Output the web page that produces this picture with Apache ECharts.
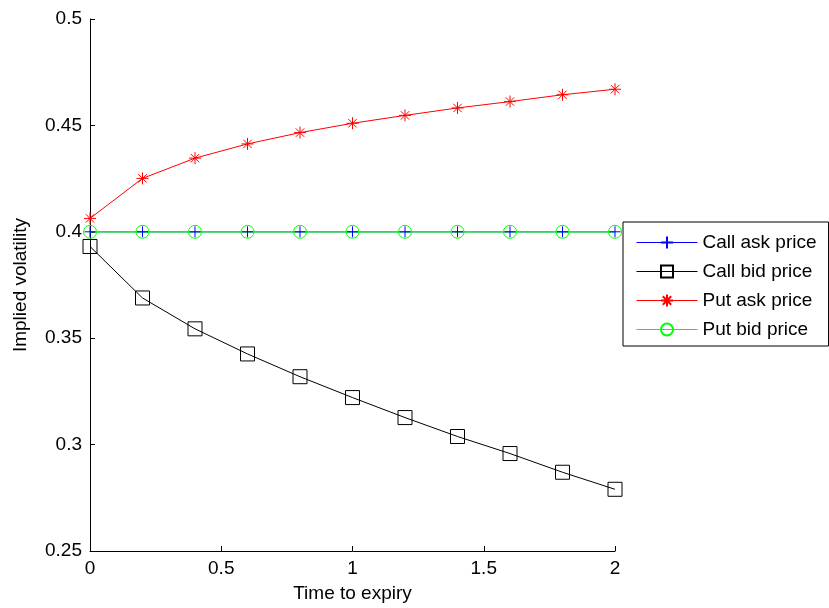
<!DOCTYPE html>
<html>
<head>
<meta charset="utf-8">
<script src="https://cdn.jsdelivr.net/npm/echarts@6/dist/echarts.min.js"></script>
<style>html,body{margin:0;padding:0;background:#fff;}#c{width:829px;height:608px;}</style>
</head>
<body>
<div id="c"></div>
<script>
const times = [0, 0.2, 0.4, 0.6, 0.8, 1.0, 1.2, 1.4, 1.6, 1.8, 2.0];
const callAsk = [0.4, 0.4, 0.4, 0.4, 0.4, 0.4, 0.4, 0.4, 0.4, 0.4, 0.4];
const callBid = [0.3931, 0.3689, 0.3544, 0.3426, 0.3319, 0.3221, 0.3127, 0.3038, 0.2958, 0.2870, 0.2790];
const putAsk = [0.4063, 0.4251, 0.4346, 0.4413, 0.4466, 0.4510, 0.4547, 0.4582, 0.4612, 0.4644, 0.4670];
const putBid = [0.4, 0.4, 0.4, 0.4, 0.4, 0.4, 0.4, 0.4, 0.4, 0.4, 0.4];
const seriesNames = ['Call ask price', 'Call bid price', 'Put ask price', 'Put bid price'];
const xTicks = [0, 0.5, 1, 1.5, 2];
const yTicks = [0.25, 0.3, 0.35, 0.4, 0.45, 0.5];

const pair = arr => arr.map((v, i) => [times[i], v]);
const plusPath = 'path://M5 0L5 10M0 5L10 5';
const starPath = 'path://M5 0L5 10M0 5L10 5M1.5 1.5L8.5 8.5M8.5 1.5L1.5 8.5';
const font = 'Liberation Sans, Arial, Helvetica, sans-serif';
const fs = 19;

function mk(name, data, color, symbol, size, lw) {
  return {
    name: name, type: 'line', data: pair(data),
    symbol: symbol, symbolSize: size, showAllSymbol: true,
    lineStyle: { color: color, width: lw },
    itemStyle: { color: 'rgba(0,0,0,0)', borderColor: color, borderWidth: 1 },
    emphasis: { disabled: true },
    animation: false
  };
}

const chart = echarts.init(document.getElementById('c'));
chart.setOption({
  backgroundColor: '#fff',
  animation: false,
  grid: { left: 90, top: 19, right: 214, bottom: 57 },
  xAxis: {
    type: 'value', min: xTicks[0], max: xTicks[xTicks.length - 1], interval: 0.5,
    name: 'Time to expiry', nameLocation: 'middle', nameGap: 33,
    nameTextStyle: { color: '#000', fontSize: fs, fontFamily: font },
    axisLine: { show: true, onZero: false, lineStyle: { color: '#000', width: 1 } },
    axisTick: { show: true, inside: true, length: 5, lineStyle: { color: '#000' } },
    axisLabel: { color: '#000', fontSize: fs, fontFamily: font, margin: 8 },
    splitLine: { show: false }
  },
  yAxis: {
    type: 'value', min: yTicks[0], max: yTicks[yTicks.length - 1], interval: 0.05,
    name: 'Implied volatility', nameLocation: 'middle', nameGap: 60,
    nameTextStyle: { color: '#000', fontSize: fs, fontFamily: font },
    axisLine: { show: true, onZero: false, lineStyle: { color: '#000', width: 1 } },
    axisTick: { show: true, inside: true, length: 5, lineStyle: { color: '#000' } },
    axisLabel: { color: '#000', fontSize: fs, fontFamily: font, margin: 8,
      formatter: v => String(parseFloat(v.toFixed(2))) },
    splitLine: { show: false }
  },
  legend: {
    data: seriesNames,
    orient: 'vertical', left: 623, top: 222,
    backgroundColor: '#fff', borderColor: '#000', borderWidth: 1,
    padding: [11, 12, 7, 13],
    itemGap: 10, itemWidth: 61, itemHeight: 15,
    lineStyle: { width: 1 },
    textStyle: { color: '#000', fontSize: fs, fontFamily: font, lineHeight: 18, height: 18 },
    selectedMode: false
  },
  series: [
    mk(seriesNames[0], callAsk, '#0000ff', plusPath, 11, 1),
    mk(seriesNames[1], callBid, '#000000', 'rect', 14, 1),
    mk(seriesNames[2], putAsk, '#ff0000', starPath, 12, 1),
    mk(seriesNames[3], putBid, '#00ff00', 'circle', 13, 1.5)
  ]
});
</script>
</body>
</html>
